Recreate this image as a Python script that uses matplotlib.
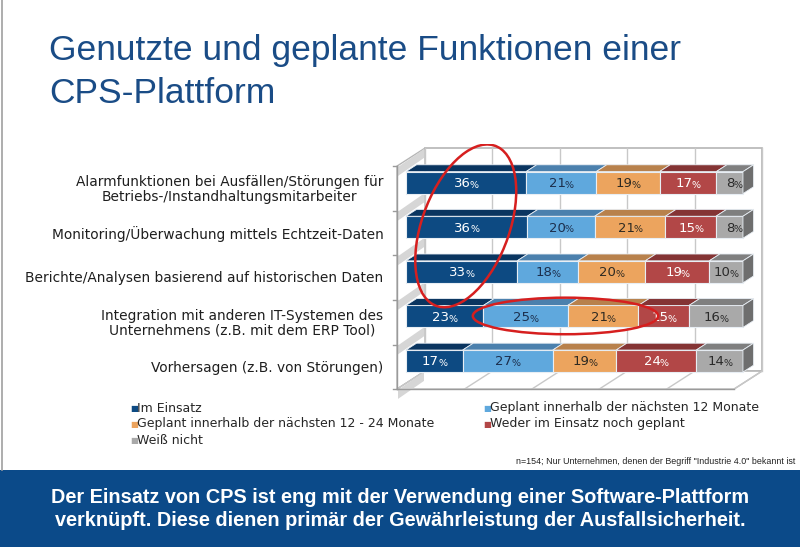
import numpy as np
import matplotlib
matplotlib.use("Agg")
import matplotlib.pyplot as plt
from matplotlib.patches import Polygon, Rectangle, Ellipse

# data
categories = [
    "Alarmfunktionen bei Ausfällen/Störungen für\nBetriebs-/Instandhaltungsmitarbeiter",
    "Monitoring/Überwachung mittels Echtzeit-Daten",
    "Berichte/Analysen basierend auf historischen Daten",
    "Integration mit anderen IT-Systemen des\nUnternehmens (z.B. mit dem ERP Tool)",
    "Vorhersagen (z.B. von Störungen)",
]
series = [
    "Im Einsatz",
    "Geplant innerhalb der nächsten 12 Monate",
    "Geplant innerhalb der nächsten 12 - 24 Monate",
    "Weder im Einsatz noch geplant",
    "Weiß nicht",
]
im_einsatz = [36, 36, 33, 23, 17]
geplant_12 = [21, 20, 18, 25, 27]
geplant_24 = [19, 21, 20, 21, 19]
weder = [17, 15, 19, 15, 24]
weiss_nicht = [8, 8, 10, 16, 14]
values = [im_einsatz, geplant_12, geplant_24, weder, weiss_nicht]

front_colors = ["#0d4a82", "#5fa8dd", "#eca45e", "#b24747", "#a9a9a9"]
top_colors = ["#0a3560", "#4b80ad", "#b8814c", "#843434", "#7f7f7f"]
label_colors = ["white", "#1c2f4d", "#2e2a22", "white", "#2a2a2a"]

title = "Genutzte und geplante Funktionen einer\nCPS-Plattform"
note = "n=154; Nur Unternehmen, denen der Begriff \"Industrie 4.0\" bekannt ist"
banner = ("Der Einsatz von CPS ist eng mit der Verwendung einer Software-Plattform\n"
          "verknüpft. Diese dienen primär der Gewährleistung der Ausfallsicherheit.")

# highlight ellipses (x in %, y in rows)
ellipse_1 = dict(xy=(20.4, 0.84), width=30.0, height=3.3)
ellipse_2 = dict(xy=(50.0, 2.86), width=55.0, height=0.82)

W, H = 800, 547
fig = plt.figure(figsize=(W / 100, H / 100), dpi=100)
fig.patch.set_facecolor("white")

# chart axes: x in percent (front plane), y in rows
px_per_x = 3.37
px_per_row = 44.6
x0_px, row0_px = 397, 188.4
xlim = (-2, 113)
ylim = (4.75, -1.0)
left_px = x0_px + xlim[0] * px_per_x
right_px = x0_px + xlim[1] * px_per_x
top_px = row0_px + ylim[1] * px_per_row
bot_px = row0_px + ylim[0] * px_per_row
ax = fig.add_axes([left_px / W, 1 - bot_px / H, (right_px - left_px) / W, (bot_px - top_px) / H])
ax.set_xlim(*xlim)
ax.set_ylim(*ylim)
ax.axis("off")

# depth of the 3D box
DX = 28 / px_per_x
DY = 18 / px_per_row
d0, d1 = 0.32, 0.70
n = len(categories)
y_top, y_bot = -0.5, n - 0.5

# back wall, left wall, floor
ax.add_patch(Polygon([(DX, y_top - DY), (100 + DX, y_top - DY), (100 + DX, y_bot - DY), (DX, y_bot - DY)],
                     closed=True, fc="white", ec="#b5b5b5", lw=1.2, zorder=1))
ax.add_patch(Polygon([(0, y_top), (DX, y_top - DY), (DX, y_bot - DY), (0, y_bot)],
                     closed=True, fc="white", ec="#b5b5b5", lw=1.0, zorder=1))
ax.add_patch(Polygon([(0, y_bot), (DX, y_bot - DY), (100 + DX, y_bot - DY), (100, y_bot)],
                     closed=True, fc="white", ec="#b5b5b5", lw=1.0, zorder=1))
for g in np.arange(0, 101, 20):
    ax.plot([g + DX, g + DX], [y_top - DY, y_bot - DY], color="#c8c8c8", lw=1.0, zorder=1.5)
    ax.plot([g, g + DX], [y_bot, y_bot - DY], color="#c8c8c8", lw=1.0, zorder=1.5)
ax.plot([0, 0], [y_top, y_bot], color="#9a9a9a", lw=1.0, zorder=2)
ax.plot([0, 100], [y_bot, y_bot], color="#9a9a9a", lw=1.0, zorder=2)
for k in range(n + 1):
    yk = y_top + k
    ax.plot([-1.3, 0], [yk, yk], color="#9a9a9a", lw=1.0, zorder=2)
    # grey shading strip on the left wall
    ax.add_patch(Polygon([(0.3, yk + 0.02), (DX - 0.3, yk - DY + 0.02), (DX - 0.3, yk - DY + 0.22), (0.3, yk + 0.22)],
                         closed=True, fc="#d6d6d6", ec="none", zorder=1.6))

# bars
bar_h = 22 / px_per_row
for i in range(n):
    row = [v[i] for v in values]
    total = float(sum(row))
    cum = 0.0
    yc = i - d0 * DY
    for j, v in enumerate(row):
        w = v / total * 100
        xs = cum + d0 * DX
        ax.add_patch(Rectangle((xs, yc - bar_h / 2), w, bar_h, fc=front_colors[j], ec="#e8eef4", lw=0.8, zorder=3))
        ddx, ddy = (d1 - d0) * DX, (d1 - d0) * DY
        ax.add_patch(Polygon([(xs, yc - bar_h / 2), (xs + ddx, yc - bar_h / 2 - ddy),
                              (xs + w + ddx, yc - bar_h / 2 - ddy), (xs + w, yc - bar_h / 2)],
                             closed=True, fc=top_colors[j], ec="#e8eef4", lw=0.6, zorder=3))
        if j == len(row) - 1:
            ax.add_patch(Polygon([(xs + w, yc - bar_h / 2), (xs + w + ddx, yc - bar_h / 2 - ddy),
                                  (xs + w + ddx, yc + bar_h / 2 - ddy), (xs + w, yc + bar_h / 2)],
                                 closed=True, fc="#6e6e6e", ec="#e8eef4", lw=0.6, zorder=3))
        cx = xs + w / 2 + 1.4
        ax.text(cx, yc + 0.02, str(v), ha="right", va="center", fontsize=9.5,
                color=label_colors[j], zorder=4)
        ax.text(cx - 0.3, yc + 0.06, "%", ha="left", va="center", fontsize=6.8,
                color=label_colors[j], zorder=4)
        cum += w
    ax.text(-4.0, i + 0.02, categories[i], ha="right", va="center", multialignment="center",
            fontsize=9.9, color="#1e1e1e", linespacing=1.1)

ax.add_patch(Ellipse(angle=-3, fc="none", ec="#d61f1f", lw=1.8, zorder=5, **ellipse_1))
ax.add_patch(Ellipse(angle=0, fc="none", ec="#d61f1f", lw=1.8, zorder=5, **ellipse_2))

# legend
leg_pos = [(130, 408), (483, 408), (130, 424), (483, 424), (130, 440)]
for (lx, ly), name, c in zip(leg_pos, series, front_colors):
    fig.text(lx / W, 1 - ly / H, "\u25a0", fontsize=6, color=c, ha="left", va="center")
    fig.text((lx + 7) / W, 1 - ly / H, name, fontsize=9, color="#262626", ha="left", va="center")

# title, note, banner, frame
fig.text(49 / W, 1 - 72 / H, title, fontsize=25.5, color="#1a4c86", ha="left", va="center",
         family="Liberation Sans", linespacing=1.38)
fig.text(795 / W, 1 - 462 / H, note, fontsize=6.4, color="#222222", ha="right", va="center",
         family="Liberation Sans")
fig.add_artist(Rectangle((0, 0), 1, 1 - 470 / H, transform=fig.transFigure, fc="#0b4a89", ec="none"))
fig.add_artist(plt.Line2D([2 / W, 2 / W], [1 - 470 / H, 1], transform=fig.transFigure, color="#a0a0a0", lw=1.2))
fig.text(0.5, 1 - 509 / H, banner, fontsize=14.3, color="white", ha="center", va="center",
         family="Liberation Sans", weight="bold", linespacing=1.3)

fig.savefig("out.png", dpi=100)
